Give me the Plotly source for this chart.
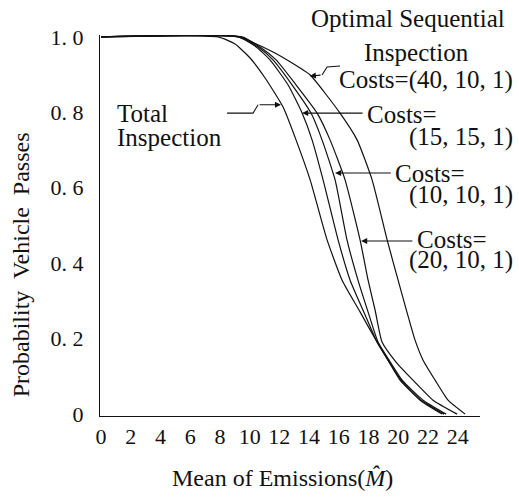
"""Probability a vehicle passes vs. mean of emissions: total vs optimal sequential inspection."""
import plotly.graph_objects as go

# curves (x = mean of emissions, y = probability of passing)
total_x = [0, 7.87, 9.02, 10.03, 11.04, 12.25, 13.12, 14.07, 15.21, 16.22, 17.43, 18.57, 19.31, 20.12, 21.47, 22.95]
total_y = [1, 1, 0.981, 0.944, 0.891, 0.814, 0.727, 0.621, 0.462, 0.355, 0.271, 0.191, 0.143, 0.090, 0.037, 0]

c15_x = [0, 9.22, 10.36, 11.37, 12.58, 13.53, 14.20, 14.94, 15.95, 16.76, 17.77, 18.57, 19.31, 20.19, 21.53, 23.08]
c15_y = [1, 1, 0.976, 0.939, 0.873, 0.798, 0.727, 0.621, 0.462, 0.355, 0.263, 0.191, 0.143, 0.090, 0.037, 0]

c10_x = [0, 9.35, 10.57, 11.57, 12.85, 14.13, 14.87, 15.75, 16.55, 17.29, 18.03, 18.64, 19.38, 20.26, 21.67, 23.22]
c10_y = [1, 1, 0.973, 0.939, 0.873, 0.798, 0.727, 0.621, 0.462, 0.355, 0.263, 0.191, 0.143, 0.090, 0.037, 0]

c20_x = [0, 9.49, 10.77, 11.78, 13.12, 14.54, 15.41, 16.42, 17.43, 17.97, 18.44, 18.91, 19.85, 20.99, 22.34, 23.96]
c20_y = [1, 1, 0.971, 0.939, 0.873, 0.798, 0.727, 0.621, 0.462, 0.355, 0.276, 0.191, 0.138, 0.090, 0.037, 0]

c40_x = [0, 9.22, 11.57, 12.72, 14.07, 16.08, 17.23, 18.24, 19.25, 19.99, 21.13, 21.67, 22.48, 23.35, 24.50]
c40_y = [1, 1, 0.960, 0.934, 0.899, 0.798, 0.727, 0.621, 0.462, 0.355, 0.196, 0.143, 0.090, 0.037, 0]

x_ticks = list(range(0, 25, 2))
y_ticks = [0, 0.2, 0.4, 0.6, 0.8, 1.0]
y_ticktext = ["0", "0. 2", "0. 4", "0. 6", "0. 8", "1. 0"]

FONT = "Liberation Serif"
INK = "#111111"

fig = go.Figure()
for xs, ys in [(total_x, total_y), (c15_x, c15_y), (c10_x, c10_y), (c20_x, c20_y), (c40_x, c40_y)]:
    fig.add_trace(go.Scatter(
        x=xs, y=ys, mode="lines",
        line=dict(color=INK, width=1.2, shape="spline", smoothing=0.5),
        showlegend=False, hoverinfo="skip",
    ))


def label(text, x, y, anchor="left", ref="data", size=25):
    xref, yref = ("x", "y") if ref == "data" else ("paper", "paper")
    fig.add_annotation(x=x, y=y, xref=xref, yref=yref, text=text, showarrow=False,
                       xanchor=anchor, yanchor="middle",
                       font=dict(family=FONT, size=size, color=INK))


def arrow(x_tip, y_tip, x_tail, y_tail):
    fig.add_annotation(x=x_tip, y=y_tip, ax=x_tail, ay=y_tail,
                       xref="x", yref="y", axref="x", ayref="y",
                       text="", showarrow=True, arrowhead=2, arrowsize=1.1,
                       arrowwidth=1.1, arrowcolor=INK, standoff=0)


def zigzag(points):
    path = "M " + " L ".join(f"{px},{py}" for px, py in points)
    fig.add_shape(type="path", path=path, xref="x", yref="y",
                  line=dict(color=INK, width=1.1))


# Total inspection label with zigzag pointer
label("Total", 0.94, 0.798)
label("Inspection", 0.94, 0.732)
zigzag([(8.48, 0.798), (10.23, 0.798), (10.57, 0.820)])
arrow(12.11, 0.820, 10.57, 0.820)

# Optimal sequential block
label("Optimal Sequential", 0.8105, 1.0446, anchor="center", ref="paper")
label("Inspection", 21.2, 0.958, anchor="center")
label("Costs=(40, 10, 1)", 1.092, 0.882, anchor="right", ref="paper")
zigzag([(16.08, 0.923), (15.21, 0.920), (14.87, 0.899)])
arrow(14.05, 0.896, 14.87, 0.899)

label("Costs=", 17.77, 0.793)
label("(15, 15, 1)", 1.092, 0.732, anchor="right", ref="paper")
arrow(13.53, 0.798, 17.7, 0.798)

label("Costs=", 19.65, 0.639)
label("(10, 10, 1)", 1.092, 0.580, anchor="right", ref="paper")
arrow(15.75, 0.639, 19.6, 0.639)

label("Costs=", 21.13, 0.462)
label("(20, 10, 1)", 1.092, 0.409, anchor="right", ref="paper")
arrow(17.5, 0.459, 21.05, 0.459)

# axis titles
fig.add_annotation(x=-0.208, y=0.398, xref="paper", yref="paper",
                   xanchor="center", yanchor="middle",
                   text="Probability  Vehicle  Passes", textangle=-90, showarrow=False,
                   font=dict(family=FONT, size=24, color=INK))
fig.add_annotation(x=0.479, y=-0.163, xref="paper", yref="paper",
                   xanchor="center", yanchor="middle",
                   text="Mean of Emissions(<i>M̂</i>)", showarrow=False,
                   font=dict(family=FONT, size=24, color=INK))

fig.update_xaxes(range=[-0.07, 25.5], tickvals=x_ticks, showgrid=False, zeroline=False,
                 showline=True, linecolor=INK, linewidth=1.3, ticks="", automargin=False,
                 ticklabelstandoff=0, tickfont=dict(family=FONT, size=22, color=INK))
fig.update_yaxes(range=[-0.005, 1.005], tickvals=y_ticks, ticktext=y_ticktext,
                 showgrid=False, zeroline=False, showline=True, linecolor=INK,
                 linewidth=1.3, ticks="", ticklabelstandoff=11, automargin=False,
                 tickfont=dict(family=FONT, size=22, color=INK))

fig.update_layout(
    width=519, height=497,
    margin=dict(l=100, r=39, t=35, b=81),
    paper_bgcolor="white", plot_bgcolor="white",
)
# drop the browser's default body margin so the figure sits at the page corner
fig.write_html("out.html", config={"displayModeBar": False},
               post_script="document.body.style.margin='0';")
